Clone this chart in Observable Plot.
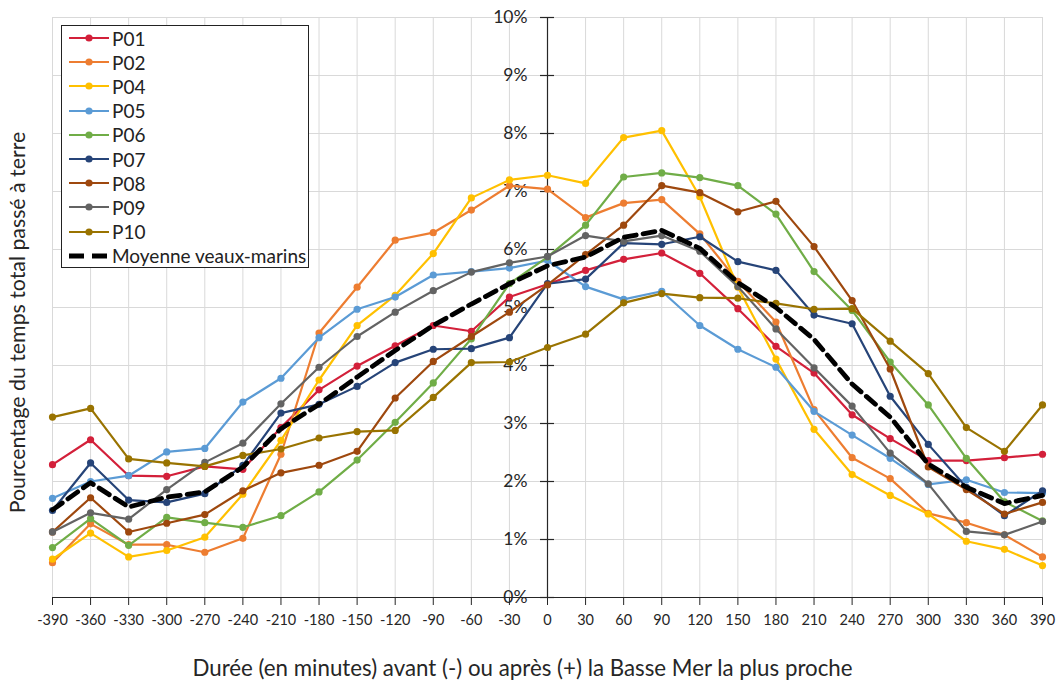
<!DOCTYPE html>
<html>
<head>
<meta charset="utf-8">
<script src="https://cdn.jsdelivr.net/npm/d3@7"></script>
<script src="https://cdn.jsdelivr.net/npm/@observablehq/plot@0.6"></script>
<style>
  html, body { margin: 0; padding: 0; background: #fff; }
  #wrap { position: relative; width: 1057px; height: 684px; font-family: Lato, "Open Sans", sans-serif; }
  #legend { position: absolute; left: 61px; top: 25px; width: 248px; height: 243px; border: 1px solid #222; background: #fff; box-sizing: border-box; padding-top: 0px; }
  .row { display: flex; align-items: center; height: 24.2px; font-size: 19px; color: #222; }
  .row svg { margin-left: 7px; margin-right: 3px; flex: none; }
</style>
</head>
<body>
<div id="wrap"><div id="legend"></div></div>
<script>
// Categories (x ticks, minutes relative to nearest low tide)
const minutes = [-390,-360,-330,-300,-270,-240,-210,-180,-150,-120,-90,-60,-30,0,30,60,90,120,150,180,210,240,270,300,330,360,390];
const yTicks = [0,1,2,3,4,5,6,7,8,9,10];

// Series values (% of total time hauled out)
const P01 = [2.29,2.72,2.10,2.09,2.26,2.21,2.93,3.58,3.99,4.34,4.69,4.59,5.18,5.40,5.64,5.83,5.94,5.59,4.98,4.33,3.87,3.15,2.74,2.36,2.36,2.41,2.47];
const P02 = [0.60,1.27,0.91,0.91,0.78,1.02,2.47,4.56,5.35,6.16,6.29,6.68,7.10,7.04,6.55,6.80,6.86,6.27,5.45,4.75,3.24,2.41,2.05,1.45,1.29,1.08,0.70];
const P04 = [0.66,1.11,0.70,0.81,1.04,1.78,2.71,3.75,4.69,5.21,5.93,6.89,7.20,7.28,7.14,7.93,8.05,6.91,5.35,4.11,2.90,2.12,1.76,1.44,0.97,0.83,0.55];
const P05 = [1.71,2.00,2.10,2.51,2.57,3.37,3.78,4.48,4.97,5.18,5.56,5.62,5.68,5.81,5.36,5.14,5.28,4.69,4.28,3.97,3.21,2.80,2.40,1.95,2.03,1.81,1.80];
const P06 = [0.86,1.36,0.90,1.38,1.29,1.21,1.41,1.82,2.37,3.02,3.70,4.46,5.41,5.87,6.42,7.25,7.32,7.24,7.10,6.61,5.62,4.95,4.06,3.32,2.40,1.65,1.32];
const P07 = [1.50,2.32,1.68,1.64,1.79,2.28,3.18,3.33,3.64,4.05,4.28,4.29,4.48,5.41,5.49,6.11,6.09,6.22,5.79,5.64,4.87,4.72,3.47,2.64,1.90,1.41,1.84];
const P08 = [1.13,1.72,1.13,1.28,1.43,1.84,2.15,2.28,2.52,3.44,4.07,4.50,4.92,5.39,5.91,6.42,7.10,6.98,6.65,6.83,6.05,5.12,3.94,2.25,1.86,1.44,1.64];
const P09 = [1.13,1.46,1.35,1.86,2.33,2.66,3.34,3.97,4.50,4.92,5.29,5.61,5.77,5.88,6.24,6.14,6.24,5.97,5.36,4.63,3.96,3.30,2.49,1.96,1.14,1.08,1.31];
const P10 = [3.11,3.26,2.39,2.32,2.26,2.45,2.56,2.75,2.86,2.88,3.45,4.05,4.06,4.31,4.54,5.08,5.24,5.17,5.16,5.07,4.97,4.98,4.42,3.86,2.93,2.52,3.32];
const MOY = [1.51,1.98,1.56,1.73,1.82,2.25,2.91,3.33,3.80,4.26,4.69,5.06,5.41,5.72,5.87,6.21,6.33,6.02,5.43,5.00,4.45,3.68,3.11,2.30,1.90,1.62,1.76];

const seriesNames = ["P01","P02","P04","P05","P06","P07","P08","P09","P10"];
const seriesValues = [P01,P02,P04,P05,P06,P07,P08,P09,P10];
const seriesColors = ["#D3203A","#ED7D31","#FFC000","#5B9BD5","#70AD47","#264478","#9E480E","#636363","#997300"];
const meanName = "Moyenne veaux-marins";
const xTitle = "Durée (en minutes) avant (-) ou après (+) la Basse Mer la plus proche";
const yTitle = "Pourcentage du temps total passé à terre";

const rows = seriesNames.map((name, k) => seriesValues[k].map((v, i) => ({series: name, minute: minutes[i], value: v})));
const meanRows = MOY.map((v, i) => ({series: meanName, minute: minutes[i], value: v}));

const ink = "#262626";
const font = "Lato, 'Open Sans', sans-serif";

const chart = Plot.plot({
  width: 1057,
  height: 684,
  marginLeft: 52,
  marginRight: 15,
  marginTop: 17,
  marginBottom: 87,
  style: {fontFamily: font, background: "#fff", overflow: "visible"},
  x: {domain: [-390, 390], axis: null},
  y: {domain: [0, 10], axis: null},
  color: {domain: seriesNames, range: seriesColors},
  marks: [
    Plot.gridY(yTicks.slice(1), {stroke: "#d9d9d9", strokeOpacity: 1, strokeWidth: 1}),
    Plot.gridX(minutes, {stroke: "#d9d9d9", strokeOpacity: 1, strokeWidth: 1}),
    Plot.axisX({ticks: minutes, tickSize: 8, tickPadding: 9, tickFormat: d => String(d), fontSize: 14.5, stroke: ink, color: ink, label: null}),
    Plot.ruleY([0], {stroke: ink, strokeWidth: 1.2}),
    Plot.ruleX([0], {y1: 0, y2: 10, stroke: ink, strokeWidth: 1.2}),
    Plot.ruleY(yTicks, {y: d => d, x1: 0, x2: 0, insetLeft: -7, insetRight: -7, stroke: ink, strokeWidth: 1.2}),
    Plot.text(yTicks, {x: 0, y: d => d, text: d => `${d}%`, dx: -20, textAnchor: "end", fontSize: 17.5, fill: ink}),
    ...rows.flatMap(r => [
      Plot.line(r, {x: "minute", y: "value", stroke: "series", strokeWidth: 2.2}),
      Plot.dot(r, {x: "minute", y: "value", fill: "series", r: 3.6})
    ]),
    Plot.line(meanRows, {x: "minute", y: "value", stroke: "#000", strokeWidth: 4.8, strokeDasharray: "12,7"}),
    Plot.text([xTitle], {frameAnchor: "bottom", lineAnchor: "middle", textAnchor: "middle", dy: 71, dx: -25, fontSize: 22.3, fill: ink}),
    Plot.text([yTitle], {frameAnchor: "left", lineAnchor: "middle", textAnchor: "middle", rotate: -90, dx: -34, dy: 15, fontSize: 21.3, fill: ink})
  ]
});

const wrap = document.getElementById("wrap");
wrap.insertBefore(chart, wrap.firstChild);

// Legend (inside the plot area, as in the original)
const legend = d3.select("#legend");
seriesNames.forEach((name, k) => {
  const row = legend.append("div").attr("class", "row");
  const s = row.append("svg").attr("width", 40).attr("height", 12);
  s.append("line").attr("x1", 0).attr("x2", 40).attr("y1", 6).attr("y2", 6).attr("stroke", seriesColors[k]).attr("stroke-width", 2.2);
  s.append("circle").attr("cx", 20).attr("cy", 6).attr("r", 3.6).attr("fill", seriesColors[k]);
  row.append("span").text(name);
});
{
  const row = legend.append("div").attr("class", "row");
  const s = row.append("svg").attr("width", 40).attr("height", 12);
  s.append("line").attr("x1", 0).attr("x2", 40).attr("y1", 6).attr("y2", 6).attr("stroke", "#000").attr("stroke-width", 4.8).attr("stroke-dasharray", "15,8");
  row.append("span").text(meanName);
}
</script>
</body>
</html>
